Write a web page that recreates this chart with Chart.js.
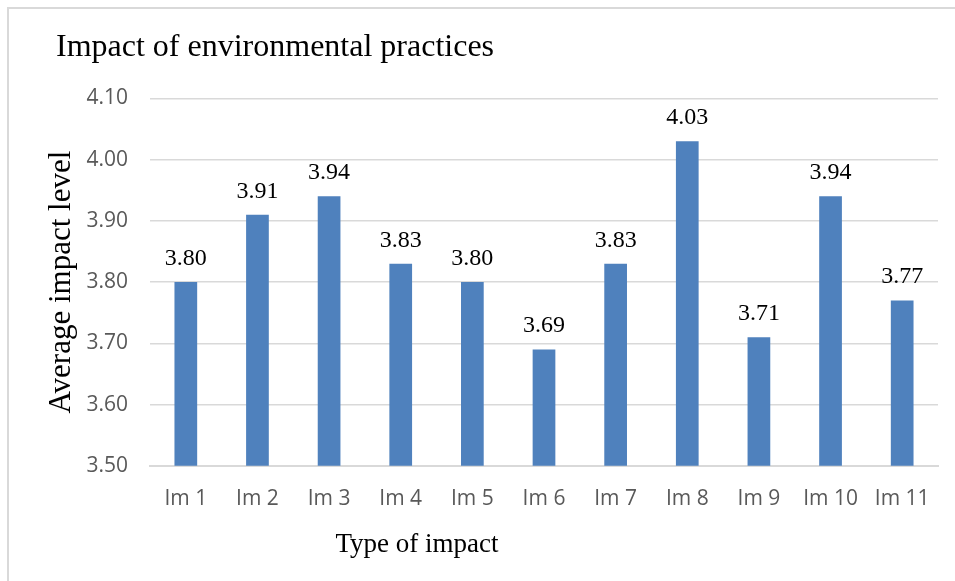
<!DOCTYPE html>
<html>
<head>
<meta charset="utf-8">
<script src="https://cdn.jsdelivr.net/npm/chart.js@4"></script>
<style>
  body { margin: 0; background: #fff; overflow: hidden; }
  #wrap { position: relative; width: 955px; height: 581px; }
  #frame { position: absolute; left: 7px; top: 7px; width: 1000px; height: 1000px;
           border-left: 2px solid #d9d9d9; border-top: 2px solid #d9d9d9; }
  canvas { position: absolute; left: 0; top: 0; }
</style>
</head>
<body>
<div id="wrap">
  <div id="frame"></div>
  <canvas id="myChart" width="955" height="581"></canvas>
</div>
<script>
var categories = ['Im 1', 'Im 2', 'Im 3', 'Im 4', 'Im 5', 'Im 6', 'Im 7', 'Im 8', 'Im 9', 'Im 10', 'Im 11'];
var impactLevels = [3.80, 3.91, 3.94, 3.83, 3.80, 3.69, 3.83, 4.03, 3.71, 3.94, 3.77];
var yTicks = [3.50, 3.60, 3.70, 3.80, 3.90, 4.00, 4.10];

var serif = '"Liberation Serif", "Times New Roman", serif';
var sans = '"Open Sans", "Liberation Sans", sans-serif';

// value labels over each bar + the x axis title
var barLabels = {
  id: 'barLabels',
  afterDatasetsDraw: function (chart) {
    var ctx = chart.ctx;
    var meta = chart.getDatasetMeta(0);
    ctx.save();
    ctx.font = '24px ' + serif;
    ctx.fillStyle = '#000';
    ctx.textAlign = 'center';
    ctx.textBaseline = 'alphabetic';
    meta.data.forEach(function (bar, i) {
      ctx.fillText(impactLevels[i].toFixed(2), bar.x, bar.y - 17);
    });
    ctx.font = '27px ' + serif;
    ctx.fillText('Type of impact', 417, 552);
    ctx.restore();
  }
};

var ctx = document.getElementById('myChart').getContext('2d');
var chart = new Chart(ctx, {
  type: 'bar',
  data: {
    labels: categories,
    datasets: [{
      data: impactLevels,
      backgroundColor: '#4f81bd',
      barPercentage: 0.317,
      categoryPercentage: 1
    }]
  },
  options: {
    responsive: false,
    animation: false,
    layout: { padding: { left: 56, right: 17, top: 0, bottom: 56 } },
    plugins: {
      legend: { display: false },
      tooltip: { enabled: false },
      title: {
        display: true,
        text: 'Impact of environmental practices',
        align: 'start',
        color: '#000',
        font: { family: serif, size: 32, weight: 'normal' },
        padding: { top: 28, bottom: 32 }
      }
    },
    scales: {
      x: {
        grid: { display: false },
        border: { color: '#d9d9d9', width: 2 },
        ticks: { color: '#595959', font: { family: sans, size: 21 }, padding: 13, maxRotation: 0 }
      },
      y: {
        min: 3.5,
        max: 4.1,
        afterFit: function (scale) { scale.width = 94; },
        afterBuildTicks: function (scale) {
          scale.ticks = yTicks.map(function (v) { return { value: v }; });
        },
        grid: { color: '#d9d9d9', lineWidth: 1.5, drawTicks: false },
        border: { display: false },
        ticks: {
          color: '#595959',
          font: { family: sans, size: 21 },
          padding: 22,
          callback: function (v) { return v.toFixed(2); }
        },
        title: {
          display: true,
          text: 'Average impact level',
          color: '#000',
          font: { family: serif, size: 31, weight: 'normal' },
          padding: { top: -13, bottom: 0 }
        }
      }
    }
  },
  plugins: [barLabels]
});
</script>
</body>
</html>
